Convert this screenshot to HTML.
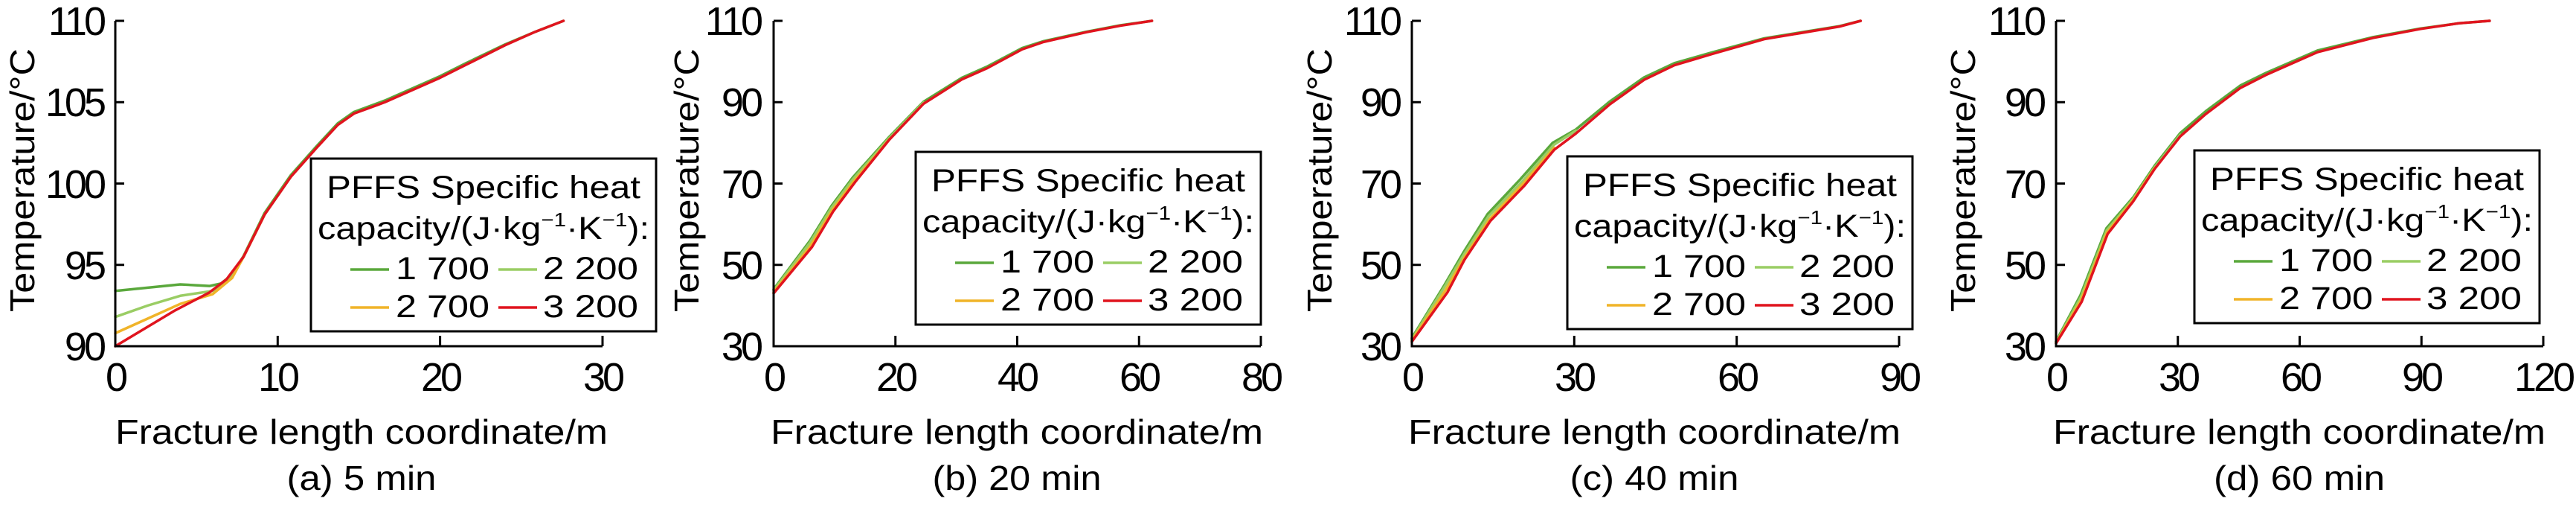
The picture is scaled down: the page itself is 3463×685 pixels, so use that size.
<!DOCTYPE html>
<html><head><meta charset="utf-8"><style>
html,body{margin:0;padding:0;background:#fff;}
svg{display:block;font-family:"Liberation Sans",Arial,sans-serif;}
</style></head><body>
<svg width="3463" height="685" viewBox="0 0 3463 685" xmlns="http://www.w3.org/2000/svg">
<defs>
<g id="leg">
<rect x="-232" y="0" width="464" height="232" fill="#fff" stroke="#000" stroke-width="3"/>
<text x="0" y="53" font-size="43" text-anchor="middle" textLength="422" lengthAdjust="spacingAndGlyphs">PFFS Specific heat</text>
<text x="0" y="108" font-size="43" text-anchor="middle" textLength="446" lengthAdjust="spacingAndGlyphs">capacity/(J·kg<tspan font-size="26" dy="-17">−1</tspan><tspan dy="17">·K</tspan><tspan font-size="26" dy="-17">−1</tspan><tspan dy="17">):</tspan></text>
<line x1="-179" y1="149" x2="-127" y2="149" stroke="#5aa83c" stroke-width="3.5"/>
<text x="-118" y="162" font-size="43" textLength="126" lengthAdjust="spacingAndGlyphs">1 700</text>
<line x1="20" y1="149" x2="72" y2="149" stroke="#9acd64" stroke-width="3.5"/>
<text x="80" y="162" font-size="43" textLength="128" lengthAdjust="spacingAndGlyphs">2 200</text>
<line x1="-179" y1="200" x2="-127" y2="200" stroke="#f0b429" stroke-width="3.5"/>
<text x="-118" y="213" font-size="43" textLength="126" lengthAdjust="spacingAndGlyphs">2 700</text>
<line x1="20" y1="200" x2="72" y2="200" stroke="#e0141e" stroke-width="3.5"/>
<text x="80" y="213" font-size="43" textLength="128" lengthAdjust="spacingAndGlyphs">3 200</text>
</g>
</defs>
<g fill="none" stroke-width="3.5" stroke-linejoin="round" stroke-linecap="round">
<g transform="translate(155,465) scale(21.83,-21.85) translate(0,-90)">
<polyline vector-effect="non-scaling-stroke" stroke="#5aa83c" points="0,93.4 2,93.6 4,93.8 5.8,93.7 6.5,93.85 7.2,94.4 7.9,95.55 9.2,98.2 10.8,100.5 12.4,102.3 13.7,103.7 14.7,104.4 16.6,105.1 20,106.6 21.6,107.4 24,108.55 25.8,109.3 27.6,110"/>
<polyline vector-effect="non-scaling-stroke" stroke="#9acd64" points="0,91.8 2,92.5 4,93.1 6,93.4 7.2,94.3 7.9,95.5 9.2,98.1 10.8,100.4"/>
<polyline vector-effect="non-scaling-stroke" stroke="#f0b429" points="0,90.8 2,91.7 4,92.6 6,93.2 7.2,94.2 7.9,95.5 9.2,98.1"/>
<polyline vector-effect="non-scaling-stroke" stroke="#e0141e" points="0,90 3.68,92.2 5.79,93.3 6.84,94.1 7.9,95.5 9.2,98.1 10.8,100.4 12.4,102.2 13.7,103.6 14.7,104.3 16.6,105 20,106.5 21.6,107.3 24,108.5 25.8,109.3 27.6,110"/>
</g>
<g transform="translate(1040,465) scale(8.19,-5.4625) translate(0,-30)">
<polyline vector-effect="non-scaling-stroke" stroke="#5aa83c" points="0,44 6,56 9.5,64.5 13,71.5 19,81.5 24.6,90.1 30.9,96 35.1,98.8 40.8,103.3 44.3,105 51.3,107.3 56.9,108.9 62.1,110"/>
<polyline vector-effect="non-scaling-stroke" stroke="#9acd64" points="0,43.7 6,55.5 9.5,64 13,71 19,81.2 24.6,89.9"/>
<polyline vector-effect="non-scaling-stroke" stroke="#f0b429" points="0,43.3 6,54.5 9.6,63.4 13.2,70.6 19,80.9"/>
<polyline vector-effect="non-scaling-stroke" stroke="#e0141e" points="0,43 6.3,54.4 9.8,63.2 13.4,70.4 19,80.8 24.6,89.6 30.9,95.6 35.1,98.4 40.8,103 44.3,104.8 51.3,107.2 56.9,108.8 62.1,110"/>
</g>
<g transform="translate(1898,465) scale(7.278,-5.4625) translate(0,-30)">
<polyline vector-effect="non-scaling-stroke" stroke="#5aa83c" points="0,32 6,45 9.5,53 14,62.5 20,71 26,80 30.3,83.3 36.6,90.2 42.9,96.1 48.5,99.6 55.6,102.3 65.1,105.7 79,108.7 82.9,110"/>
<polyline vector-effect="non-scaling-stroke" stroke="#9acd64" points="0,31.7 6,44.5 9.6,52.5 14.2,62 20.4,70.5 26.2,79.5 30.3,83"/>
<polyline vector-effect="non-scaling-stroke" stroke="#f0b429" points="0,31.4 6.3,43.9 9.7,51.8 14.4,61.3 20.6,70 26.3,78.8"/>
<polyline vector-effect="non-scaling-stroke" stroke="#e0141e" points="0,31.1 6.6,43.3 9.7,51.2 14.5,60.8 20.8,69.5 26.3,78.3 30.3,82.3 36.6,89.5 42.9,95.5 48.5,99.1 55.6,101.9 65.1,105.5 79,108.6 82.9,110"/>
</g>
<g transform="translate(2764,465) scale(5.458,-5.4625) translate(0,-30)">
<polyline vector-effect="non-scaling-stroke" stroke="#5aa83c" points="0,31.2 6,42.5 12.4,59 19,66.6 24.3,74.4 30.6,82.4 36.9,87.8 45.4,94.1 51.7,97.2 64.4,102.7 78.1,106 89.7,108.1 99.2,109.4 106.8,110"/>
<polyline vector-effect="non-scaling-stroke" stroke="#9acd64" points="0,31 6.1,42 12.5,58.5 19,66.2 24.3,74 30.6,82"/>
<polyline vector-effect="non-scaling-stroke" stroke="#f0b429" points="0,30.8 6.2,41.4 12.6,58 19,65.9 24.3,73.8"/>
<polyline vector-effect="non-scaling-stroke" stroke="#e0141e" points="0,30.7 6.3,40.9 12.7,57.6 19,65.6 24.3,73.6 30.6,81.6 36.9,87.1 45.4,93.5 51.7,96.7 64.4,102.3 78.1,105.8 89.7,108 99.2,109.4 106.8,110"/>
</g>
</g>

<g stroke="#000" stroke-width="3" fill="none">
<path d="M155,28V465H810 M155,28h12 M155,137.25h12 M155,246.5h12 M155,355.75h12 M373.3,465v-14 M591.6,465v-14 M810,465v-14"/>
<path d="M1040,28V465H1695 M1040,28h12 M1040,137.25h12 M1040,246.5h12 M1040,355.75h12 M1203.75,465v-14 M1367.5,465v-14 M1531.25,465v-14 M1695,465v-14"/>
<path d="M1898,28V465H2553 M1898,28h12 M1898,137.25h12 M1898,246.5h12 M1898,355.75h12 M2116.3,465v-14 M2334.7,465v-14 M2553,465v-14"/>
<path d="M2764,28V465H3419 M2764,28h12 M2764,137.25h12 M2764,246.5h12 M2764,355.75h12 M2927.75,465v-14 M3091.5,465v-14 M3255.25,465v-14 M3419,465v-14"/>
</g>

<use href="#leg" x="650" y="213"/>
<use href="#leg" x="1463" y="204"/>
<use href="#leg" x="2339" y="210"/>
<use href="#leg" x="3182" y="202"/>

<g font-size="54" fill="#000" letter-spacing="-4">
<g text-anchor="end">
<text x="139" y="47">110</text><text x="139" y="156">105</text><text x="139" y="266">100</text><text x="139" y="375">95</text><text x="139" y="484">90</text>
<text x="1022" y="47">110</text><text x="1022" y="156">90</text><text x="1022" y="266">70</text><text x="1022" y="375">50</text><text x="1022" y="484">30</text>
<text x="1881" y="47">110</text><text x="1881" y="156">90</text><text x="1881" y="266">70</text><text x="1881" y="375">50</text><text x="1881" y="484">30</text>
<text x="2747" y="47">110</text><text x="2747" y="156">90</text><text x="2747" y="266">70</text><text x="2747" y="375">50</text><text x="2747" y="484">30</text>
</g>
<g text-anchor="middle">
<text x="155" y="525">0</text><text x="373" y="525">10</text><text x="592" y="525">20</text><text x="810" y="525">30</text>
<text x="1040" y="525">0</text><text x="1204" y="525">20</text><text x="1367" y="525">40</text><text x="1531" y="525">60</text><text x="1695" y="525">80</text>
<text x="1898" y="525">0</text><text x="2116" y="525">30</text><text x="2335" y="525">60</text><text x="2553" y="525">90</text>
<text x="2764" y="525">0</text><text x="2928" y="525">30</text><text x="3092" y="525">60</text><text x="3255" y="525">90</text><text x="3419" y="525">120</text>
</g>
</g>

<g font-size="46" fill="#000" text-anchor="middle">
<text x="486" y="596" textLength="662" lengthAdjust="spacingAndGlyphs">Fracture length coordinate/m</text>
<text x="1367" y="596" textLength="662" lengthAdjust="spacingAndGlyphs">Fracture length coordinate/m</text>
<text x="2224" y="596" textLength="662" lengthAdjust="spacingAndGlyphs">Fracture length coordinate/m</text>
<text x="3091" y="596" textLength="662" lengthAdjust="spacingAndGlyphs">Fracture length coordinate/m</text>
<text x="486" y="658" textLength="201" lengthAdjust="spacingAndGlyphs">(a) 5 min</text>
<text x="1367" y="658" textLength="227" lengthAdjust="spacingAndGlyphs">(b) 20 min</text>
<text x="2224" y="658" textLength="227" lengthAdjust="spacingAndGlyphs">(c) 40 min</text>
<text x="3091" y="658" textLength="230" lengthAdjust="spacingAndGlyphs">(d) 60 min</text>
<text transform="translate(46,242) rotate(-90)" textLength="354" lengthAdjust="spacingAndGlyphs">Temperature/°C</text>
<text transform="translate(939,242) rotate(-90)" textLength="354" lengthAdjust="spacingAndGlyphs">Temperature/°C</text>
<text transform="translate(1790,242) rotate(-90)" textLength="354" lengthAdjust="spacingAndGlyphs">Temperature/°C</text>
<text transform="translate(2655,242) rotate(-90)" textLength="354" lengthAdjust="spacingAndGlyphs">Temperature/°C</text>
</g>
</svg>
</body></html>
